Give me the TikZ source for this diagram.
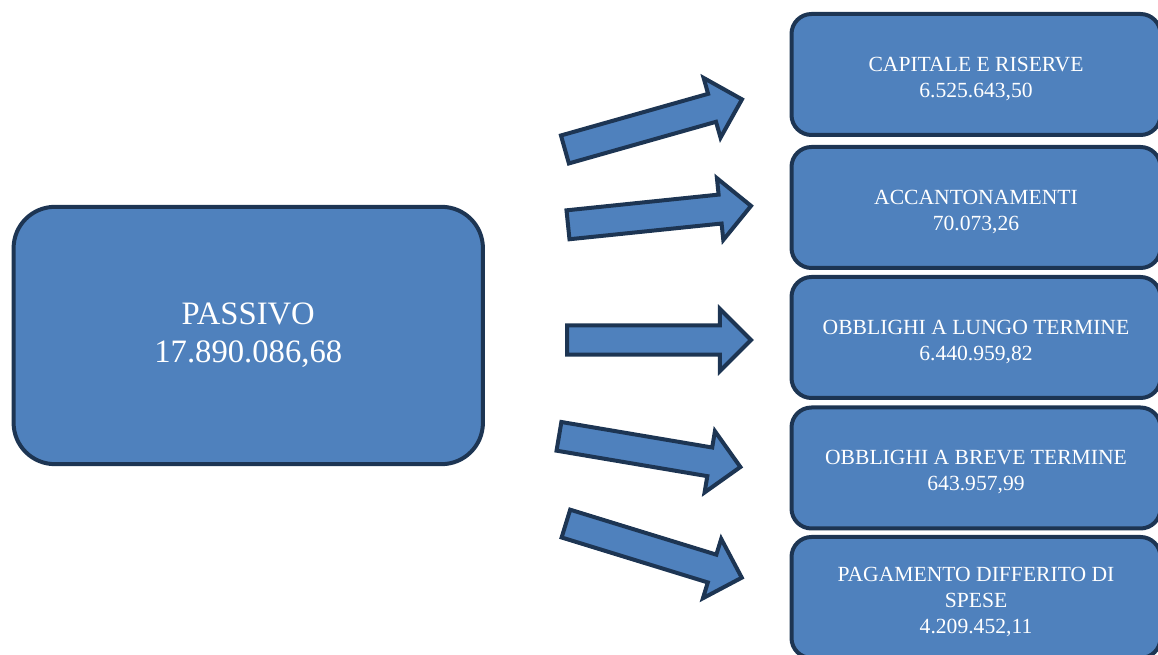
\documentclass[tikz,border=0pt]{standalone}
\usepackage{fontspec}
\setmainfont{Liberation Serif}
\usetikzlibrary{shapes.arrows}
\definecolor{boxfill}{HTML}{4F81BD}
\definecolor{boxline}{HTML}{1D3553}
\newcommand{\lowtext}[1]{\raisebox{-3.5pt}[\height][\depth]{\begin{tabular}{@{}c@{}}#1\end{tabular}}}
\begin{document}
\begin{tikzpicture}[x=0.75pt,y=-0.75pt,
  box/.style={draw=boxline, fill=boxfill, line width=3pt, rounded corners=15pt,
    text=white, font=\fontsize{16.2}{19.5}\selectfont, inner sep=0pt,
    minimum width=276.75pt, minimum height=90.75pt},
  bigbox/.style={draw=boxline, fill=boxfill, line width=3pt, rounded corners=31pt,
    text=white, align=center, font=\fontsize{24.5}{28.5}\selectfont, inner sep=0pt,
    minimum width=352pt, minimum height=193pt},
  blockarrow/.style={single arrow, draw=boxline, fill=boxfill, line width=3pt,
    inner xsep=0pt, inner ysep=9.4pt, single arrow head extend=12.4pt,
    minimum height=138pt, anchor=tail, line join=miter}]
\useasboundingbox (0,0) rectangle (1158,655);
\clip (0,0) rectangle (1158,655);

\node[bigbox] (passivo) at (248.25,335.5) {PASSIVO\\17.890.086,68};

\node[box] (b1) at (976,74.5) {\lowtext{CAPITALE E RISERVE\\6.525.643,50}};
\node[box] (b2) at (976,207.5) {\lowtext{ACCANTONAMENTI\\70.073,26}};
\node[box] (b3) at (976,337.5) {\lowtext{OBBLIGHI A LUNGO TERMINE\\6.440.959,82}};
\node[box] (b4) at (976,468) {\lowtext{OBBLIGHI A BREVE TERMINE\\643.957,99}};
\node[box] (b5) at (976,597.5) {\lowtext{PAGAMENTO DIFFERITO DI\\SPESE\\4.209.452,11}};

\coordinate (t1) at (563,150);
\coordinate (t2) at (566,225);
\coordinate (t3) at (565,340);
\coordinate (t4) at (557,436);
\coordinate (t5) at (564,523);

\node[blockarrow, rotate=15.8] (a1) at (t1) {};
\node[blockarrow, rotate=5.9] (a2) at (t2) {};
\node[blockarrow, rotate=0] (a3) at (t3) {};
\node[blockarrow, rotate=-9.6] (a4) at (t4) {};
\node[blockarrow, rotate=-17.1] (a5) at (t5) {};
\end{tikzpicture}
\end{document}
